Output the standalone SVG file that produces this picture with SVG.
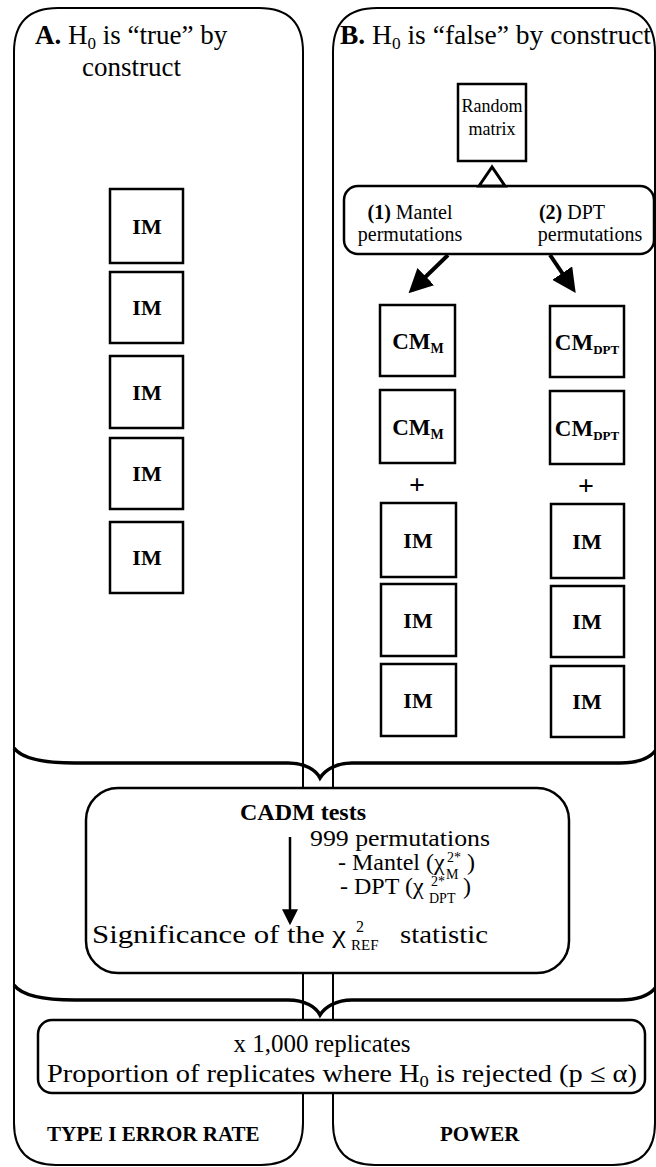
<svg xmlns="http://www.w3.org/2000/svg" width="656" height="1167" viewBox="0 0 656 1167">
<style>
.t{font-family:"Liberation Serif","Times New Roman",serif;fill:#000}
.b{font-weight:bold}
.box{fill:#fff;stroke:#000;stroke-width:2.5}
.panel{fill:none;stroke:#000;stroke-width:2}
.brace{fill:none;stroke:#000;stroke-width:3.5}
.im{font-size:22px;font-weight:bold;text-anchor:middle}
.cm{font-size:23px;font-weight:bold;text-anchor:middle}
.arr{stroke:#000;stroke-width:4;fill:none}
</style>
<defs>
<marker id="ah" viewBox="0 0 10 10" refX="8" refY="5" markerWidth="24" markerHeight="24" markerUnits="userSpaceOnUse" orient="auto">
<path d="M0,0 L10,5 L0,10 Z" fill="#000"/>
</marker>
<marker id="ah2" viewBox="0 0 10 10" refX="8" refY="5" markerWidth="16" markerHeight="20" markerUnits="userSpaceOnUse" orient="auto">
<path d="M0,0 L10,5 L0,10 Z" fill="#000"/>
</marker>
</defs>
<rect width="656" height="1167" fill="#fff"/>

<g id="panelA">
<path class="panel" d="M14,52 Q14,8 58,8 L259,8 Q303,8 303,52 L303,1123 Q303,1165 261,1165 L56,1165 Q14,1165 14,1123 Z"/>
<text class="t" x="35" y="44" font-size="27"><tspan class="b">A.</tspan> H<tspan font-size="17" dy="5">0</tspan><tspan dy="-5"> is “true” by</tspan></text>
<text class="t" x="82" y="76" font-size="27">construct</text>
<text class="t b" x="47" y="1141" font-size="21">TYPE I ERROR RATE</text>
</g>
<g id="panelB">
<path class="panel" d="M333,52 Q333,8 377,8 L611,8 Q655,8 655,52 L655,1123 Q655,1165 613,1165 L375,1165 Q333,1165 333,1123 Z"/>
<text class="t" x="340" y="44" font-size="27" textLength="311" lengthAdjust="spacingAndGlyphs"><tspan class="b">B.</tspan> H<tspan font-size="17" dy="5">0</tspan><tspan dy="-5"> is “false” by construct</tspan></text>
<text class="t b" x="440" y="1141" font-size="21">POWER</text>
</g>

<g id="braces">
<path class="brace" d="M14,748 C22,759 45,763 75,763 L288,763 C305,763 316,770 320,778 C325,770 336,763 352,763 L620,763 C640,763 650,758 656,750"/>
<path class="brace" d="M14,985 C22,996 45,1000 75,1000 L288,1000 C305,1000 316,1007 320,1015 C325,1007 336,1000 352,1000 L620,1000 C640,1000 650,995 656,987"/>
</g>

<g id="imA1"><rect class="box" x="110" y="189" width="73" height="74"/><text class="t im" x="147" y="234">IM</text></g>
<g id="imA2"><rect class="box" x="110" y="272" width="73" height="71"/><text class="t im" x="147" y="315">IM</text></g>
<g id="imA3"><rect class="box" x="110" y="356" width="73" height="72"/><text class="t im" x="147" y="400">IM</text></g>
<g id="imA4"><rect class="box" x="110" y="438" width="73" height="71"/><text class="t im" x="147" y="481">IM</text></g>
<g id="imA5"><rect class="box" x="110" y="522" width="73" height="71"/><text class="t im" x="147" y="565">IM</text></g>

<g id="random"><rect class="box" x="458" y="84" width="68" height="77"/>
<text class="t" x="492" y="112" font-size="18" text-anchor="middle">Random</text>
<text class="t" x="492" y="135" font-size="18" text-anchor="middle">matrix</text></g>

<g id="perms"><rect class="box" x="344" y="186" width="310" height="68" rx="14"/>
<text class="t" x="410" y="219" font-size="20" text-anchor="middle"><tspan class="b">(1)</tspan> Mantel</text>
<text class="t" x="410" y="241" font-size="20" text-anchor="middle">permutations</text>
<text class="t" x="572" y="219" font-size="20" text-anchor="middle"><tspan class="b">(2)</tspan> DPT</text>
<text class="t" x="590" y="241" font-size="20" text-anchor="middle">permutations</text></g>

<g id="cmM1"><rect class="box" x="380" y="305" width="75" height="71"/><text class="t cm" x="418" y="349">CM<tspan font-size="14" dy="4">M</tspan></text></g>
<g id="cmM2"><rect class="box" x="380" y="390" width="75" height="73"/><text class="t cm" x="418" y="435">CM<tspan font-size="14" dy="4">M</tspan></text></g>
<g id="cmD1"><rect class="box" x="550" y="306" width="74" height="71"/><text class="t cm" x="587" y="350">CM<tspan font-size="13" dy="4">DPT</tspan></text></g>
<g id="cmD2"><rect class="box" x="550" y="391" width="74" height="73"/><text class="t cm" x="587" y="436">CM<tspan font-size="13" dy="4">DPT</tspan></text></g>
<g id="plus1"><text class="t b" x="417" y="494" font-size="28" text-anchor="middle">+</text></g>
<g id="plus2"><text class="t b" x="586" y="495" font-size="28" text-anchor="middle">+</text></g>

<g id="imB1"><rect class="box" x="381" y="503" width="75" height="74"/><text class="t im" x="418" y="548">IM</text></g>
<g id="imB2"><rect class="box" x="381" y="584" width="75" height="72"/><text class="t im" x="418" y="628">IM</text></g>
<g id="imB3"><rect class="box" x="381" y="664" width="75" height="72"/><text class="t im" x="418" y="708">IM</text></g>
<g id="imC1"><rect class="box" x="551" y="504" width="73" height="74"/><text class="t im" x="587" y="549">IM</text></g>
<g id="imC2"><rect class="box" x="551" y="586" width="73" height="71"/><text class="t im" x="587" y="629">IM</text></g>
<g id="imC3"><rect class="box" x="551" y="666" width="73" height="71"/><text class="t im" x="587" y="709">IM</text></g>

<g id="cadm"><rect class="box" x="86" y="788" width="483" height="185" rx="32"/>
<text class="t b" x="303" y="820" font-size="24" text-anchor="middle">CADM tests</text>
<text class="t" x="310" y="846" font-size="24" textLength="180" lengthAdjust="spacingAndGlyphs">999 permutations</text>
<text class="t" x="338" y="870" font-size="24">- Mantel (χ</text>
<text class="t" x="447" y="862" font-size="14">2*</text>
<text class="t" x="446" y="879" font-size="14">M</text>
<text class="t" x="467" y="870" font-size="24">)</text>
<text class="t" x="340" y="894" font-size="24">- DPT (χ</text>
<text class="t" x="431" y="886" font-size="14">2*</text>
<text class="t" x="429" y="903" font-size="14">DPT</text>
<text class="t" x="463" y="894" font-size="24">)</text>
<text class="t" x="92" y="943" font-size="25" textLength="254" lengthAdjust="spacingAndGlyphs">Significance of the χ</text>
<text class="t" x="356" y="932" font-size="16">2</text>
<text class="t" x="351" y="950" font-size="15">REF</text>
<text class="t" x="400" y="943" font-size="25" textLength="88" lengthAdjust="spacingAndGlyphs">statistic</text>
</g>

<g id="replicates"><rect class="box" x="38" y="1020" width="607" height="73" rx="14"/>
<text class="t" x="322" y="1052" font-size="25" text-anchor="middle">x 1,000 replicates</text>
<text class="t" x="47" y="1082" font-size="26" textLength="590" lengthAdjust="spacingAndGlyphs">Proportion of replicates where H<tspan font-size="17" dy="5">0</tspan><tspan dy="-5"> is rejected (p ≤ α)</tspan></text>
</g>

<g id="connectors">
<path d="M492,167 L479,186 L505,186 Z" fill="#fff" stroke="#000" stroke-width="3"/>
<line class="arr" x1="448" y1="255" x2="412" y2="290" marker-end="url(#ah)"/>
<line class="arr" x1="550" y1="255" x2="573" y2="289" marker-end="url(#ah)"/>
<line x1="290" y1="837" x2="290" y2="922" stroke="#000" stroke-width="2.5" marker-end="url(#ah2)"/>
</g>
</svg>
